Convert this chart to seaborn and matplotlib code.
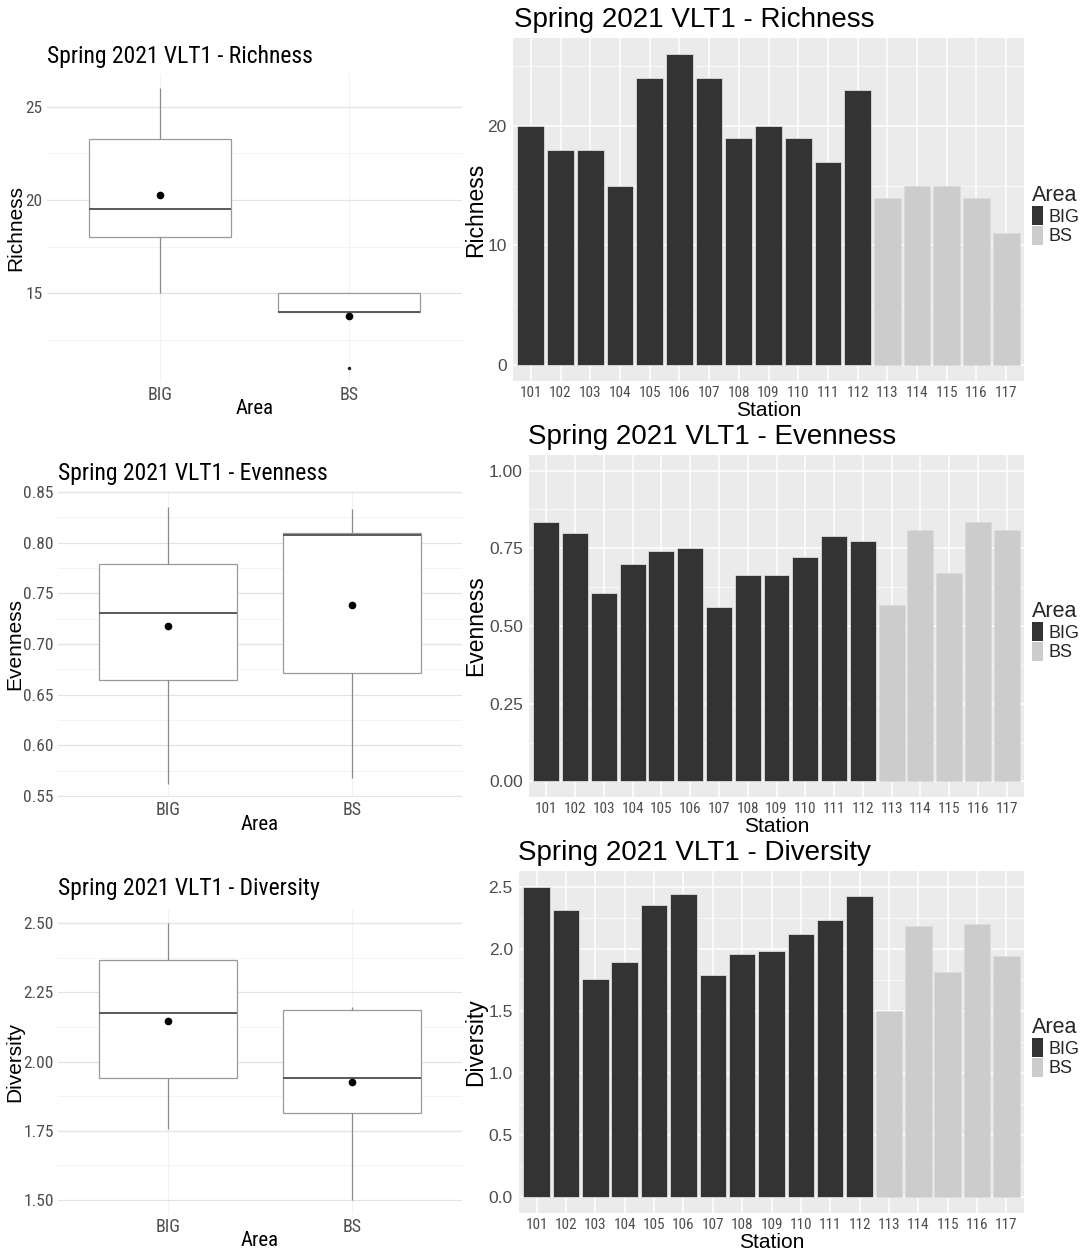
import matplotlib
matplotlib.use("Agg")
import pandas as pd
import seaborn as sns
import matplotlib.pyplot as plt
from matplotlib import font_manager
from matplotlib.ticker import MultipleLocator, FormatStrFormatter
from matplotlib.patches import Patch

# values
stations = ["101", "102", "103", "104", "105", "106", "107", "108", "109",
            "110", "111", "112", "113", "114", "115", "116", "117"]
areas = ["BIG"] * 12 + ["BS"] * 5
richness = [20, 18, 18, 15, 24, 26, 24, 19, 20, 19, 17, 23, 14, 15, 15, 14, 11]
evenness = [0.835, 0.800, 0.607, 0.700, 0.740, 0.750, 0.562, 0.665, 0.663,
            0.722, 0.790, 0.775, 0.568, 0.808, 0.671, 0.833, 0.810]
diversity = [2.50, 2.31, 1.755, 1.89, 2.35, 2.44, 1.785, 1.955, 1.985,
             2.12, 2.23, 2.42, 1.50, 2.185, 1.815, 2.195, 1.94]

area_order = ["BIG", "BS"]
area_colors = {"BIG": "#333333", "BS": "#CCCCCC"}

df = pd.DataFrame({"Station": stations, "Area": areas, "Richness": richness,
                   "Evenness": evenness, "Diversity": diversity})

sns.set_theme(style="white")
REG = ["Liberation Sans", "DejaVu Sans"]
# the left panels look horizontally squeezed: use a condensed face if there is one
installed = {f.name for f in font_manager.fontManager.ttflist}
NAR, nar_k = REG, 0.88
for cand in ["Roboto Condensed", "Liberation Sans Narrow", "Arial Narrow"]:
    if cand in installed:
        NAR, nar_k = [cand] + REG, 1.0
        break
plt.rcParams["font.family"] = REG

W, H = 1089, 1254
fig = plt.figure(figsize=(W / 100, H / 100), dpi=100)


def add_ax(l, t, r, b):
    return fig.add_axes([l / W, 1 - b / H, (r - l) / W, (b - t) / H])


def place_labels(ax, box, xlab_y, ylab_x):
    l, t, r, b = box
    ax.xaxis.label.set_va("center")
    ax.yaxis.label.set_va("center")
    ax.xaxis.set_label_coords(0.5, (b - xlab_y) / (b - t))
    ax.yaxis.set_label_coords((ylab_x - l) / (r - l), 0.5)


rows = [
    dict(metric="Richness",
         lbox=(47, 74, 462, 382), rbox=(513, 38, 1024, 381),
         lylim=(10.25, 26.75), lmaj=5, lmin=2.5, lfmt="%d",
         rylim=(-1.3, 27.3), rmaj=10, rmin=5, rfmt="%d",
         ltitle=(47, 57), rtitle=(514, 20),
         lxl=409, lyl=16, rxl=410, ryl=476, leg=185),
    dict(metric="Evenness",
         lbox=(58, 491, 462, 797), rbox=(529, 455, 1024, 797),
         lylim=(0.549, 0.851), lmaj=0.05, lmin=0.025, lfmt="%.2f",
         rylim=(-0.05, 1.05), rmaj=0.25, rmin=0.125, rfmt="%.2f",
         ltitle=(58, 473), rtitle=(528, 437),
         lxl=825, lyl=15, rxl=826, ryl=476, leg=601),
    dict(metric="Diversity",
         lbox=(58, 909, 462, 1214), rbox=(519, 871, 1024, 1213),
         lylim=(1.45, 2.55), lmaj=0.25, lmin=0.125, lfmt="%.2f",
         rylim=(-0.125, 2.625), rmaj=0.5, rmin=0.25, rfmt="%.1f",
         ltitle=(58, 889), rtitle=(518, 853),
         lxl=1241, lyl=15, rxl=1242, ryl=476, leg=1017),
]

for row in rows:
    m = row["metric"]
    title = "Spring 2021 VLT1 - " + m

    # ---- left: boxplot, minimal theme
    ax = add_ax(*row["lbox"])
    sns.boxplot(data=df, x="Area", y=m, order=area_order, color="white",
                linecolor="#9a9a9a", linewidth=0.9, width=0.75,
                showcaps=False, showmeans=True,
                meanprops=dict(marker="o", markerfacecolor="black",
                               markeredgecolor="black", markersize=4.5),
                medianprops=dict(color="#5a5a5a", linewidth=1.4),
                whiskerprops=dict(color="#8a8a8a", linewidth=0.9),
                flierprops=dict(marker="o", markersize=1.5,
                                markerfacecolor="#222222",
                                markeredgecolor="#222222"),
                ax=ax)
    ax.set_facecolor("white")
    ax.set_xlim(-0.6, 1.6)
    ax.set_ylim(*row["lylim"])
    ax.yaxis.set_major_locator(MultipleLocator(row["lmaj"]))
    ax.yaxis.set_minor_locator(MultipleLocator(row["lmin"]))
    ax.yaxis.set_major_formatter(FormatStrFormatter(row["lfmt"]))
    ax.grid(True, which="major", axis="y", color="#e3e3e3", linewidth=0.9)
    ax.grid(True, which="minor", axis="y", color="#f1f1f1", linewidth=0.6)
    ax.grid(True, which="major", axis="x", color="#f3f3f3", linewidth=0.8)
    ax.set_axisbelow(True)
    for s in ax.spines.values():
        s.set_visible(False)
    ax.tick_params(which="both", length=0, colors="#4d4d4d", pad=3)
    for lab in ax.get_xticklabels():
        lab.set_family(NAR)
        lab.set_fontsize(13 * nar_k)
    for lab in ax.get_yticklabels():
        lab.set_family(NAR)
        lab.set_fontsize(12.5 * nar_k)
    ax.set_xlabel("Area", fontsize=15 * nar_k, family=NAR, color="black")
    ax.set_ylabel(m, fontsize=15, family=REG, color="black")
    place_labels(ax, row["lbox"], row["lxl"], row["lyl"])
    tx, ty = row["ltitle"]
    fig.text(tx / W, 1 - ty / H, title, fontsize=17 * nar_k, family=NAR,
             va="center", ha="left", color="black")

    # ---- right: bar chart, grey theme
    ax = add_ax(*row["rbox"])
    ax.set_facecolor("#EBEBEB")
    sns.barplot(data=df, x="Station", y=m, hue="Area", order=stations,
                hue_order=area_order, palette=area_colors, dodge=False,
                width=0.9, errorbar=None, legend=False,
                edgecolor="#dcdcdc", linewidth=0.6, ax=ax)
    ax.set_xlim(-0.6, len(stations) - 0.4)
    ax.set_ylim(*row["rylim"])
    ax.yaxis.set_major_locator(MultipleLocator(row["rmaj"]))
    ax.yaxis.set_minor_locator(MultipleLocator(row["rmin"]))
    ax.yaxis.set_major_formatter(FormatStrFormatter(row["rfmt"]))
    ax.grid(True, which="major", color="white", linewidth=1.1)
    ax.grid(True, which="minor", axis="y", color="white", linewidth=0.5)
    ax.set_axisbelow(True)
    for s in ax.spines.values():
        s.set_visible(False)
    ax.tick_params(which="major", length=3, color="#333333",
                   labelcolor="#4d4d4d", pad=1.5)
    ax.tick_params(axis="x", which="major", pad=0.5)
    ax.tick_params(which="minor", length=0)
    for lab in ax.get_xticklabels():
        lab.set_family(NAR)
        lab.set_fontsize(11 * nar_k)
    for lab in ax.get_yticklabels():
        lab.set_fontsize(12.5)
    ax.set_xlabel("Station", fontsize=15, color="black")
    ax.set_ylabel(m, fontsize=16.5, color="black")
    place_labels(ax, row["rbox"], row["rxl"], row["ryl"])
    tx, ty = row["rtitle"]
    fig.text(tx / W, 1 - ty / H, title, fontsize=20,
             va="center", ha="left", color="black")

    handles = [Patch(facecolor=area_colors[a], edgecolor="none") for a in area_order]
    ax.legend(handles, area_order, title="Area", loc="upper left",
              bbox_to_anchor=(1032 / W, 1 - row["leg"] / H),
              bbox_transform=fig.transFigure, frameon=False,
              fontsize=13, title_fontsize=15.5, handlelength=0.6,
              handleheight=1.25, handletextpad=0.3, labelspacing=0.0,
              borderpad=0, borderaxespad=0, alignment="left")

fig.savefig("out.png", dpi=100)
